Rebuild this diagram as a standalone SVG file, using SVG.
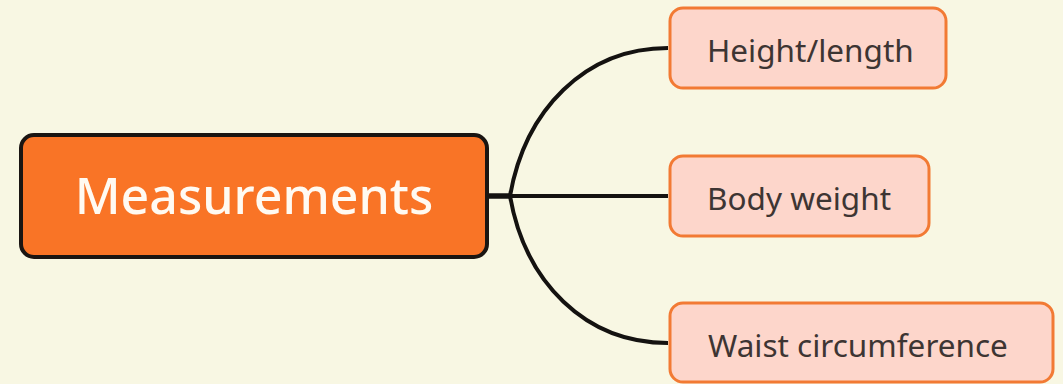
<svg xmlns="http://www.w3.org/2000/svg" width="1063" height="384" viewBox="0 0 1063 384">
<style>
.bg{fill:#f8f7e3}
.root{fill:#f97426;stroke:#1a1512;stroke-width:4}
.child{fill:#fdd6cb;stroke:#f27a34;stroke-width:3}
.rt{font-family:"Noto Sans","Lato",sans-serif;font-size:50px;font-weight:500;fill:#fffaf2;text-anchor:middle;dominant-baseline:central}
.ct{font-family:"Noto Sans","Lato",sans-serif;font-size:31.5px;fill:#3d3533;text-anchor:start;dominant-baseline:central}
.conn{fill:none;stroke:#141210;stroke-width:4;stroke-linecap:butt}
</style>
<rect class="bg" x="0" y="0" width="1063" height="384"/>
<g id="connectors">
<path class="conn" d="M487,196 L510,196" style="stroke-width:5.5"/>
<path class="conn" d="M510,196 L668,196"/>
<path class="conn" d="M510,196 C525,110 585,48 668,48"/>
<path class="conn" d="M510,196 C525,282 585,343 668,343"/>
</g>
<g id="node-measurements">
<rect class="root" x="21" y="135" width="466" height="122" rx="13"/>
<text class="rt" x="254" y="195">Measurements</text>
</g>
<g id="node-height">
<rect class="child" x="670" y="8" width="276" height="80" rx="13"/>
<text class="ct" x="707" y="49">Height/length</text>
</g>
<g id="node-weight">
<rect class="child" x="670" y="156" width="259" height="80" rx="13"/>
<text class="ct" x="707" y="197">Body weight</text>
</g>
<g id="node-waist">
<rect class="child" x="670" y="303" width="383" height="79" rx="13"/>
<text class="ct" x="708" y="344">Waist circumference</text>
</g>
</svg>
